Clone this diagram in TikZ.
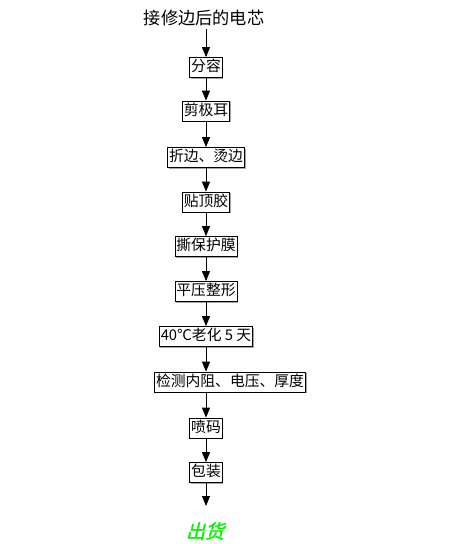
\documentclass[tikz,border=0pt]{standalone}
\usepackage{fontspec}
\setmainfont{Noto Sans CJK SC}
\newfontfamily\cjk{Noto Sans CJK SC}
\newfontfamily\cjkit[FakeSlant=0.25,FakeBold=1.5]{Noto Sans CJK SC}
\usetikzlibrary{arrows.meta,shadows}
\definecolor{shipgreen}{RGB}{10,240,10}
\tikzset{
  x=1pt,y=1pt,
  stepbox/.style={draw=black,line width=0.7pt,fill=white,inner xsep=1.5pt,inner ysep=0pt,
    minimum height=20pt,text height=11pt,text depth=3pt,font=\cjk\fontsize{14.8}{15}\selectfont,
    drop shadow={shadow xshift=1pt,shadow yshift=-1pt,fill=gray!70,opacity=1}},
  flow/.style={line width=1pt,-{Triangle[width=8pt,length=10pt]}},
}
\begin{document}
\begin{tikzpicture}
\useasboundingbox (0,0) rectangle (453,-544);
\node[font=\cjk\fontsize{17.2}{17}\selectfont,inner sep=0pt] (t0) at (204,-18) {接修边后的电芯};
\node[stepbox] (b1) at (206,-67.5) {分容};
\node[stepbox] (b2) at (206,-111) {剪极耳};
\node[stepbox] (b3) at (206,-157.5) {折边、烫边};
\node[stepbox] (b4) at (206,-202) {贴顶胶};
\node[stepbox] (b5) at (206,-246.5) {撕保护膜};
\node[stepbox] (b6) at (206,-291.5) {平压整形};
\node[stepbox] (b7) at (206,-336.5) {40℃老化 5 天};
\node[stepbox] (b8) at (230,-382) {检测内阻、电压、厚度};
\node[stepbox] (b9) at (206,-428) {喷码};
\node[stepbox] (b10) at (206,-472.5) {包装};
\coordinate (end) at (206,-506);
\node[font=\cjkit\fontsize{19}{19}\selectfont,text=shipgreen,inner sep=0pt] (ship) at (205,-531) {出货};
\draw[flow] (t0.south -| b1) ++(0,-3) -- (b1.north);
\draw[flow] (b1.south) -- (b2.north);
\draw[flow] (b2.south) -- (b3.north);
\draw[flow] (b3.south) -- (b4.north);
\draw[flow] (b4.south) -- (b5.north);
\draw[flow] (b5.south) -- (b6.north);
\draw[flow] (b6.south) -- (b7.north);
\draw[flow] (b7.south) -- (b7.south |- b8.north);
\draw[flow] (b7.south |- b8.south) -- (b9.north);
\draw[flow] (b9.south) -- (b10.north);
\draw[flow] (b10.south) -- (end);
\end{tikzpicture}
\end{document}
